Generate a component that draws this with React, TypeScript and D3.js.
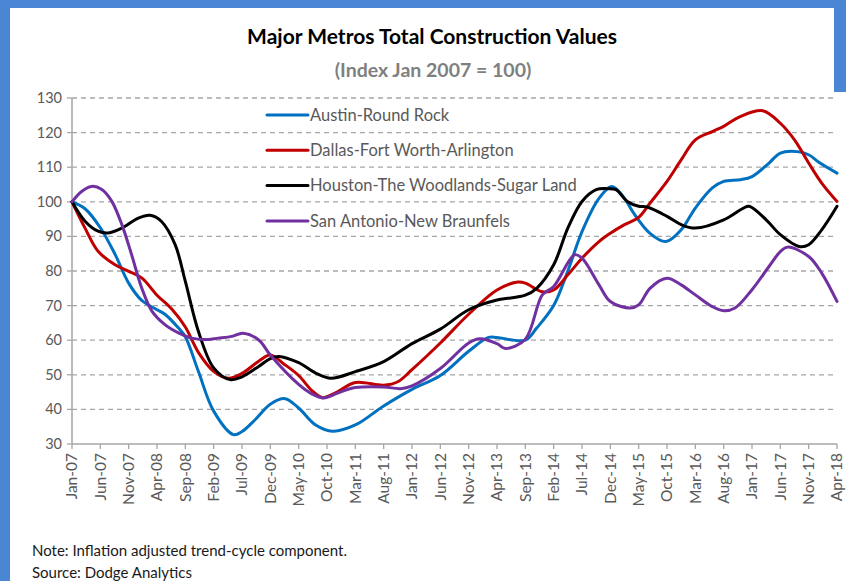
import React from "react";
import * as d3 from "d3";

const tickLabels = ["Jan-07","Jun-07","Nov-07","Apr-08","Sep-08","Feb-09","Jul-09","Dec-09","May-10","Oct-10","Mar-11","Aug-11","Jan-12","Jun-12","Nov-12","Apr-13","Sep-13","Feb-14","Jul-14","Dec-14","May-15","Oct-15","Mar-16","Aug-16","Jan-17","Jun-17","Nov-17","Apr-18"];
const yTicks = [30, 40, 50, 60, 70, 80, 90, 100, 110, 120, 130];

// [month index from Jan-07, index value]
const austin: [number, number][] = [
  [0,100],[2.3,98],[5,92.5],[7.6,84.8],[10,76.5],[12.3,71.5],[15,68.8],[16.4,67.5],[18.8,63.5],[20,61],
  [22.3,51],[25,39.5],[28.5,32.7],[30,33.6],[32.3,37],[35,41.5],[37.6,43.1],[40,40.4],[43,35.5],[46,33.7],
  [50,35.5],[55,41],[60,45.8],[65,49.8],[70,56.8],[73.5,60.8],[75,60.8],[80,60],[82,63.5],[85,70],
  [87.5,80],[90,91.4],[93,101],[95.3,104.4],[97.5,101],[99,97],[102,90.9],[104.8,88.5],[107.5,91.9],[110,98.2],
  [113,104],[115,105.9],[118,106.4],[120,107.3],[123,111.2],[125,114.1],[128,114.5],[130,113.6],[132,111.2],[135,108.3]
];
const dallas: [number, number][] = [
  [0,100],[2.3,92.4],[4.6,85.7],[7.6,81.8],[10,79.9],[12.3,78],[15,73],[17.6,69],[20,63.8],[22.3,56.5],
  [25,51],[27.6,49],[30,50.4],[33,54],[35,55.7],[37.5,53],[40,49.8],[42.3,45.5],[44.2,43.4],[46.5,44.8],
  [50,47.8],[55,47],[57.5,48],[60,51.5],[65,59.2],[70,67.5],[75,74.5],[78.7,76.8],[80,76.5],[83,74],
  [85,74.5],[87.5,78.9],[90,83.7],[93,88.5],[95,90.9],[97.5,93.4],[100,95.5],[102,99.6],[105,105.9],[107.5,112.1],
  [110,117.9],[113,120.3],[115,121.8],[118,124.7],[121.9,126.3],[125,122.7],[127.5,117.9],[130,111.2],[132.3,105.4],[135,100.1]
];
const houston: [number, number][] = [
  [0,100],[2.3,94.4],[4.6,91.5],[6.4,91],[8.8,92.4],[11.7,95.3],[13.8,96.1],[15.8,94.3],[18.2,87.6],[20,77],
  [22.3,62.6],[25,52],[27.9,48.6],[30,49.4],[33,52.5],[35,54.7],[36.5,55.3],[40,53.5],[43,50.5],[45.7,49],
  [50,50.9],[55,53.8],[60,59],[65,63.2],[70,68.8],[75,71.6],[80,73],[82,75],[85,81.8],[87.5,92.4],
  [90,100.1],[92.5,103.5],[94.5,103.8],[96,103.5],[98,100.1],[100,98.7],[101.5,98.5],[105,95.8],[107.5,93.4],[110,92.4],
  [115,94.8],[118.5,98.2],[119.5,98.7],[122.5,94.8],[125,90.5],[128.3,87.1],[130,87.6],[132.3,91.9],[135,98.7]
];
const sanAntonio: [number, number][] = [
  [0,100],[1.7,103],[3.6,104.5],[5.2,103.6],[7,100.2],[8.8,93.4],[10.5,84.8],[12.3,75.1],[14.1,68.4],[16.4,64.5],
  [18.8,62.1],[21.1,60.6],[23.5,60.2],[25.8,60.6],[28.2,61.1],[30.2,62],[33,60],[35,55.7],[40,47.2],[42.3,44.5],
  [44.4,43.3],[47,44.8],[50,46.3],[55,46.5],[58,46],[60,46.8],[65,51.8],[70,59.2],[72,60.4],[75,59],[76.5,57.6],
  [80,60.3],[83,73.1],[85,75.5],[88.7,84.7],[90,83.7],[93,76],[95,71.2],[98.5,69.3],[100,70.2],[102,75],
  [105,77.9],[107.5,76],[110,73.1],[113,69.7],[115,68.5],[117,69.3],[120,74.6],[123,81.3],[125,85.6],[126.3,86.9],
  [130,84.2],[132.3,79.4],[135,71.2]
];

const seriesNames = ["Austin-Round Rock", "Dallas-Fort Worth-Arlington", "Houston-The Woodlands-Sugar Land", "San Antonio-New Braunfels"];
const seriesData = [austin, dallas, houston, sanAntonio];
const seriesColors = ["#0070c0", "#c00000", "#000000", "#7030a0"];

const FONT = "Lato, 'Open Sans', sans-serif";

export default function App() {
  const x = d3.scaleLinear().domain([0, 135]).range([72, 837]);
  const y = d3.scaleLinear().domain([30, 130]).range([444, 98]);
  const line = d3.line<[number, number]>().x(d => x(d[0])).y(d => y(d[1])).curve(d3.curveCatmullRom.alpha(0.5));
  const tickMonths = tickLabels.map((_, i) => i * 5);

  return (
    <svg width={846} height={581} style={{ position: "absolute", left: 0, top: 0 }} fontFamily={FONT}>
      <rect x={0} y={0} width={846} height={581} fill="#ffffff" />
      <rect x={0} y={0} width={846} height={8} fill="#4a86d4" />
      <rect x={0} y={0} width={10} height={581} fill="#4a86d4" />
      <rect x={834} y={0} width={12} height={92} fill="#4a86d4" />

      <text x={432} y={44} textAnchor="middle" fontSize={21} fontWeight="bold" fill="#000">Major Metros Total Construction Values</text>
      <text x={433} y={77} textAnchor="middle" fontSize={19.5} fontWeight="bold" fill="#7f7f7f">(Index Jan 2007 = 100)</text>

      {yTicks.filter(t => t !== 30).map(t => (
        <line key={"g" + t} x1={72} x2={837} y1={y(t)} y2={y(t)} stroke="#a6a6a6" strokeWidth={1.3} strokeDasharray="5,4" />
      ))}
      {yTicks.map(t => (
        <g key={"yt" + t}>
          <line x1={67} x2={72} y1={y(t)} y2={y(t)} stroke="#a6a6a6" strokeWidth={1.3} />
          <text x={62} y={y(t)} dy="0.35em" textAnchor="end" fontSize={14.5} fill="#595959">{t}</text>
        </g>
      ))}
      <line x1={72} x2={72} y1={y(130)} y2={y(30)} stroke="#a6a6a6" strokeWidth={1.5} />
      <line x1={72} x2={837} y1={y(30)} y2={y(30)} stroke="#a6a6a6" strokeWidth={1.5} />
      {tickMonths.map((m, i) => (
        <g key={"xt" + i}>
          <line x1={x(m)} x2={x(m)} y1={y(30)} y2={y(30) + 5} stroke="#a6a6a6" strokeWidth={1.3} />
          <text transform={`translate(${x(m)},${y(30) + 9}) rotate(-90)`} dy="0.35em" textAnchor="end" fontSize={15.5} fill="#595959">{tickLabels[i]}</text>
        </g>
      ))}

      {seriesData.map((d, i) => (
        <path key={"s" + i} d={line(d) || ""} fill="none" stroke={seriesColors[i]} strokeWidth={3} strokeLinejoin="round" strokeLinecap="round" />
      ))}

      {seriesNames.map((n, i) => {
        const ly = 115 + i * 35.3;
        return (
          <g key={"l" + i}>
            <line x1={267} x2={308} y1={ly} y2={ly} stroke={seriesColors[i]} strokeWidth={3} strokeLinecap="round" />
            <text x={310} y={ly} dy="0.35em" fontSize={16.5} fill="#595959">{n}</text>
          </g>
        );
      })}

      <text x={32} y={556} fontSize={15} fill="#1a1a1a">Note: Inflation adjusted trend-cycle component.</text>
      <text x={32} y={578} fontSize={15} fill="#1a1a1a">Source: Dodge Analytics</text>
    </svg>
  );
}
